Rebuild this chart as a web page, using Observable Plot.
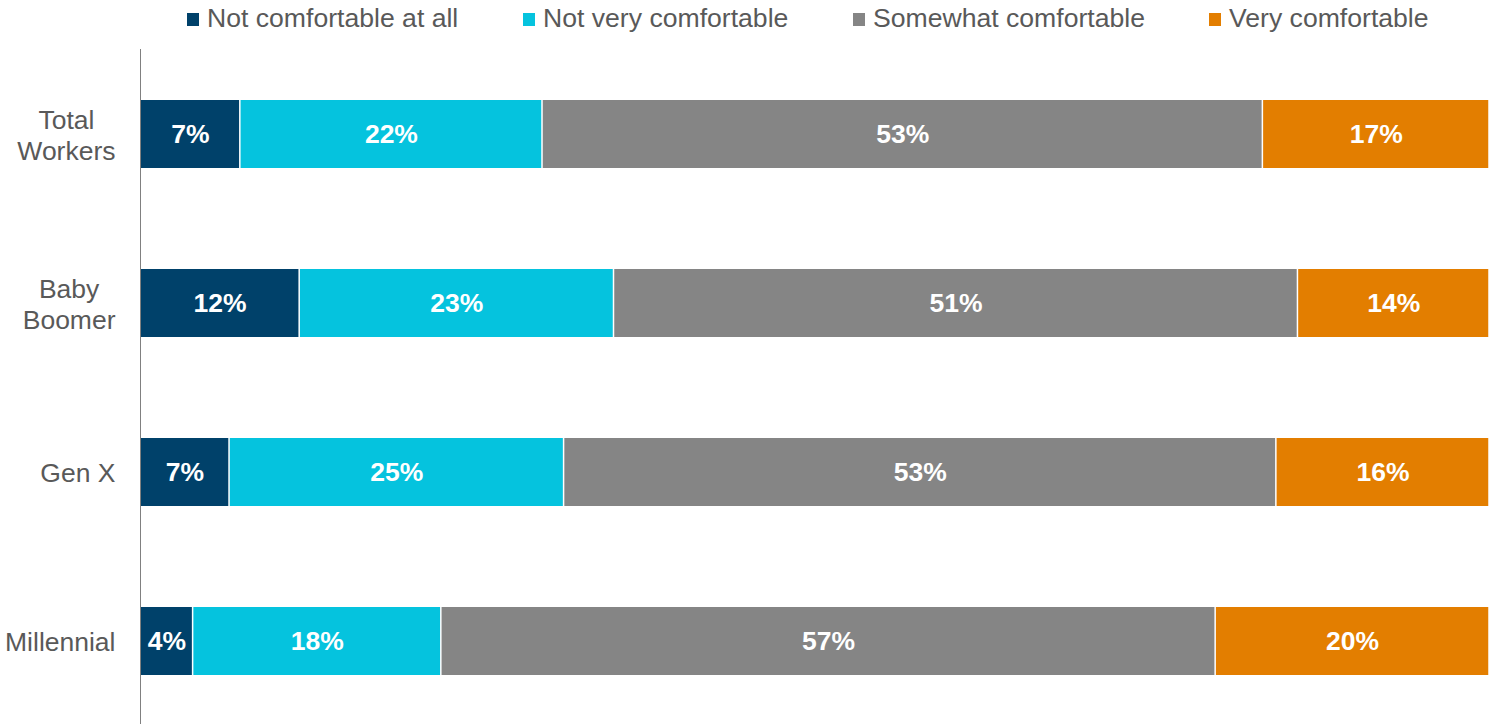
<!DOCTYPE html>
<html>
<head>
<meta charset="utf-8">
<script src="https://cdn.jsdelivr.net/npm/d3@7"></script>
<script src="https://cdn.jsdelivr.net/npm/@observablehq/plot@0.6"></script>
<style>
  html, body { margin: 0; padding: 0; background: #fff; overflow: hidden; }
  body { width: 1489px; height: 724px; font-family: "Liberation Sans", Arial, sans-serif; }
  #legend { position: relative; width: 1489px; height: 49px; }
  .lg-mark { position: absolute; width: 12px; height: 13px; top: 13px; }
  .lg-text { position: absolute; top: 5px; font-size: 26.6px; line-height: 26px; color: #595959; white-space: nowrap; }
  #chart svg { display: block; }
</style>
</head>
<body>
<div id="legend"></div>
<div id="chart"></div>
<script>
const categories = ["Total\nWorkers", "Baby\nBoomer", "Gen X", "Millennial"];
const levels = ["Not comfortable at all", "Not very comfortable", "Somewhat comfortable", "Very comfortable"];
const colors = ["#00416a", "#05c3de", "#858585", "#e37e00"];
const notAtAll = [7.4, 11.8, 6.6, 3.9];
const notVery = [22.4, 23.3, 24.8, 18.4];
const somewhat = [53.4, 50.7, 52.8, 57.4];
const very = [16.8, 14.2, 15.8, 20.3];

const FONT = '"Liberation Sans", Arial, sans-serif';
const series = [notAtAll, notVery, somewhat, very];
const rows = [];
categories.forEach((c, i) => {
  levels.forEach((l, j) => rows.push({cat: c, level: l, value: series[j][i]}));
});

// Legend (HTML above the SVG)
const legendTextX = [207, 543, 873, 1229];
const legend = document.getElementById("legend");
levels.forEach((l, j) => {
  const m = document.createElement("div");
  m.className = "lg-mark";
  m.style.left = (legendTextX[j] - 20) + "px";
  m.style.background = colors[j];
  legend.appendChild(m);
  const t = document.createElement("div");
  t.className = "lg-text";
  t.style.left = legendTextX[j] + "px";
  t.textContent = l;
  legend.appendChild(t);
});

// category labels: single lines right-aligned, multi-line blocks centred on their widest line
const labelSize = 26.5;
const ctx = document.createElement("canvas").getContext("2d");
ctx.font = `${labelSize}px "Liberation Sans", Arial, sans-serif`;
const blockWidth = s => Math.max(...s.split("\n").map(t => ctx.measureText(t).width));
const singleCats = categories.filter(c => !c.includes("\n"));
const multiCats = categories.filter(c => c.includes("\n"));
const labelOpts = {tickSize: 0, tickPadding: 25, fontSize: labelSize, lineHeight: 1.17, label: null};

const chart = Plot.plot({
  width: 1489,
  height: 676,
  marginLeft: 140,
  marginRight: 0,
  marginTop: 0,
  marginBottom: 0,
  style: {fontFamily: FONT, fontSize: "26px", color: "#595959", background: "white"},
  x: {domain: [0, 100], axis: null},
  y: {domain: categories, paddingInner: 0.6, paddingOuter: 0.3, label: null, axis: null},
  color: {domain: levels, range: colors},
  marks: [
    Plot.barX(rows, Plot.stackX({x: "value", y: "cat", fill: "level", order: levels, insetLeft: 0.75, insetRight: 0.75})),
    Plot.textX(rows, Plot.stackX({x: "value", y: "cat", z: "level", order: levels,
      text: d => Math.round(d.value) + "%", fill: "white", fontWeight: "bold", fontSize: 26.5})),
    Plot.axisY(singleCats, {...labelOpts, textAnchor: "end"}),
    ...multiCats.map(c => Plot.axisY([c], {...labelOpts, textAnchor: "middle", dx: -blockWidth(c) / 2})),
    Plot.ruleX([0], {stroke: "#808080", strokeWidth: 1})
  ]
});
document.getElementById("chart").appendChild(chart);
</script>
</body>
</html>
